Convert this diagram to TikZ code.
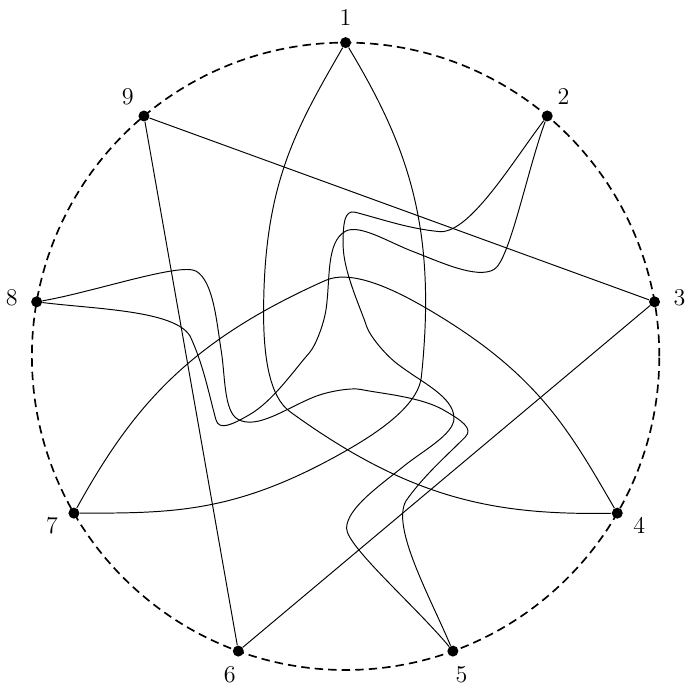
\documentclass[tikz,border=0pt]{standalone}
\begin{document}
\begin{tikzpicture}[x=0.02cm,y=0.02cm,
  dot/.style={circle,fill=black,inner sep=0pt,minimum size=0.22cm},
  wire/.style={line width=0.55pt},
  rim/.style={line width=0.95pt,dash pattern=on 4.8pt off 2.9pt},
  lab/.style={font=\fontsize{13.7}{16}\selectfont,inner sep=0pt}]
\useasboundingbox (-345.6,-330.7) rectangle (340.4,356.3);
\coordinate (c) at (0,0);
\draw[rim] (c) circle[radius=313.7];
\foreach \k in {1,...,9} {
  \pgfmathsetmacro\ang{90-40*(\k-1)}
  \node[dot] (p\k) at (\ang:313.7) {};
  \node[lab] (l\k) at (\ang:339) {\k};
}
% straight triangle 3-6-9
\draw[wire] (p9) -- (p3);
\draw[wire] (p9) -- (p6);
\draw[wire] (p6) -- (p3);
% curved triangle 1-4-7
\foreach \r/\s/\t in {0/1/4,-120/4/7,-240/7/1} {
  \draw[wire,rotate=\r] (p\s) .. controls (-50,227) and (-82,172) .. (-82,43)
    .. controls (-82,-2) and (-75.8,-40.7) .. (-55.6,-55.4)
    .. controls (65.8,-143.6) and (150,-159) .. (p\t);
}
% curved triangle 2-5-8
\foreach \r/\s/\t in {0/2/5,-120/5/8,-240/8/2} {
  \draw[wire,rotate=\r] (p\s) .. controls (165.5,192.4) and (125,124.6) .. (95,124.6)
    .. controls (65.1,127.2) and (39,136.2) .. (10,144)
    .. controls (-1.6,147.1) and (-2.5,132) .. (-2.5,112)
    .. controls (-2.5,85) and (14.8,49) .. (21,30)
    .. controls (24.1,20.5) and (39.2,2.2) .. (51,-7)
    .. controls (74.6,-25.5) and (108.4,-40) .. (108.4,-62)
    .. controls (108.4,-78) and (77.4,-94.3) .. (58,-110)
    .. controls (34.7,-128.9) and (1,-152) .. (1,-172)
    .. controls (1,-190) and (70,-250) .. (p\t);
}
\end{tikzpicture}
\end{document}
